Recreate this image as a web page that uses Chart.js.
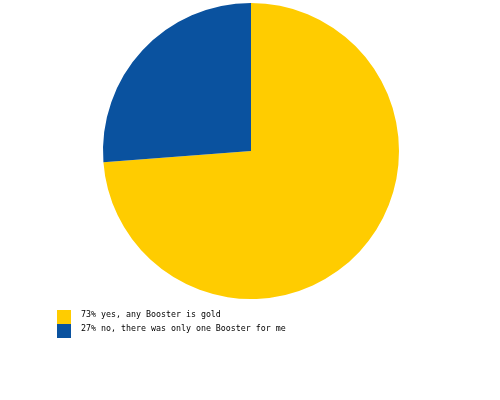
<!DOCTYPE html>
<html>
<head>
<meta charset="utf-8">
<script src="https://cdn.jsdelivr.net/npm/chart.js@4"></script>
<style>
  html, body { margin: 0; padding: 0; background: #ffffff; }
  #wrap { width: 500px; height: 400px; }
</style>
</head>
<body>
<div id="wrap"><canvas id="myChart" width="500" height="400"></canvas></div>
<script>
// data (slice sizes, labels as printed)
const labels = ['73% yes, any Booster is gold', '27% no, there was only one Booster for me'];
const values = [73.8, 26.2];
const colorHex = ['#ffcc00', '#0a529f'];

// square legend boxes drawn under the pie
const boxLegend = {
    id: 'boxLegend',
    afterDraw(chart) {
        const ctx = chart.ctx;
        const ds = chart.data.datasets[0];
        ctx.save();
        ctx.font = '8.3px "DejaVu Sans Mono", monospace';
        ctx.textBaseline = 'middle';
        chart.data.labels.forEach((lab, i) => {
            const y = 310 + i * 14;
            ctx.fillStyle = ds.backgroundColor[i];
            ctx.fillRect(57, y, 14, 14);
            ctx.fillStyle = '#000000';
            ctx.fillText(lab, 81, y + 5);
        });
        ctx.restore();
    }
};

const data = {
    labels: labels,
    datasets: [{
        data: values,
        backgroundColor: colorHex,
        borderWidth: 0
    }]
};

const options = {
    responsive: false,
    animation: false,
    layout: {
        padding: { top: 3, bottom: 101, left: 103, right: 101 }
    },
    plugins: {
        legend: { display: false },
        tooltip: { enabled: false }
    }
};

const myChart = new Chart(document.getElementById('myChart'), {
    type: 'pie',
    data,
    options,
    plugins: [boxLegend]
});
</script>
</body>
</html>
